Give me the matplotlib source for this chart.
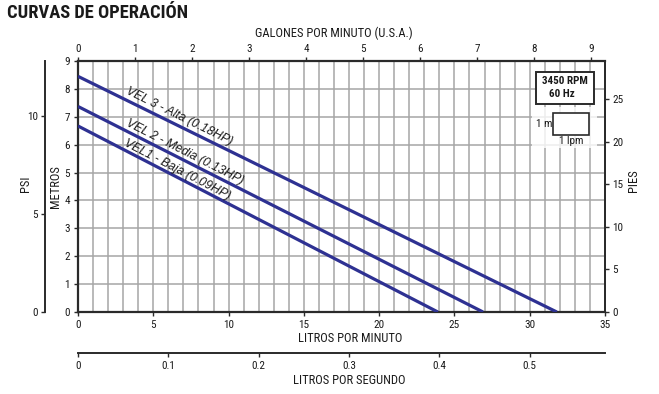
import numpy as np
import matplotlib
matplotlib.use("Agg")
import matplotlib.pyplot as plt
from matplotlib import font_manager as fm
from matplotlib.patches import Rectangle
from matplotlib.ticker import MultipleLocator, FixedLocator, FuncFormatter

# ---------------- data ----------------
title = "CURVAS DE OPERACIÓN"
curve_names = ["VEL 3 - Alta (0.18HP)", "VEL 2 - Media (0.13HP)", "VEL1 - Baja (0.09HP)"]
flow_vel3 = [0.0, 31.8]   # LPM
head_vel3 = [8.45, 0.0]   # m
flow_vel2 = [0.0, 26.9]
head_vel2 = [7.37, 0.0]
flow_vel1 = [0.0, 23.9]
head_vel1 = [6.67, 0.0]
lpm_ticks = [0, 5, 10, 15, 20, 25, 30, 35]
m_ticks = [0, 1, 2, 3, 4, 5, 6, 7, 8, 9]
gpm_ticks = [0, 1, 2, 3, 4, 5, 6, 7, 8, 9]
ft_ticks = [0, 5, 10, 15, 20, 25]
psi_ticks = [0, 5, 10]
lps_ticks = [0, 0.1, 0.2, 0.3, 0.4, 0.5]

# ---------------- style ----------------
names = {f.name for f in fm.fontManager.ttflist}
NARROW = "Liberation Sans"
for cand in ["Liberation Sans Narrow", "Arial Narrow", "Roboto Condensed",
             "Archivo Narrow", "PT Sans Narrow", "Pragati Narrow"]:
    if cand in names:
        NARROW = cand
        break
plt.rcParams["font.family"] = [NARROW, "DejaVu Sans"]
WIDE = ["Liberation Sans", "DejaVu Sans"]
TXT = "#1a1a1a"
SPINE = "#2a2a2a"
GRID = "#a6a6a6"
LINE = "#2e3192"
TS = 8

W, H = 659, 394
fig = plt.figure(figsize=(W / 100, H / 100), dpi=100)
fig.patch.set_facecolor("white")

def fx(px):
    return px / W

def fy(py):
    return 1 - py / H

L, R, T, B = 78, 605, 61, 312
ax = fig.add_axes([fx(L), fy(B), (R - L) / W, (B - T) / H])
ax.set_xlim(0, 35)
ax.set_ylim(0, 9)
ax.xaxis.set_major_locator(FixedLocator(lpm_ticks))
ax.xaxis.set_minor_locator(MultipleLocator(1))
ax.yaxis.set_major_locator(FixedLocator(m_ticks))
ax.grid(True, which="both", axis="x", color=GRID, lw=1.1, zorder=0)
ax.grid(True, which="major", axis="y", color=GRID, lw=1.1, zorder=0)
ax.tick_params(axis="x", which="minor", length=0)
ax.tick_params(axis="both", which="major", direction="out", length=3, width=1,
               colors=SPINE, labelcolor=TXT, labelsize=TS, pad=3)
for s in ["left", "bottom", "top"]:
    ax.spines[s].set_linewidth(1.6)
    ax.spines[s].set_color(SPINE)
ax.spines["right"].set_linewidth(1.4)
ax.spines["right"].set_color(SPINE)

# curves
curves = [(flow_vel3, head_vel3), (flow_vel2, head_vel2), (flow_vel1, head_vel1)]
for fl, hd in curves:
    ax.plot(fl, hd, color=LINE, lw=2.3, solid_capstyle="butt", zorder=3)

# curve labels along the lines
label_x = [3.0, 3.0, 2.9]
label_off = [5.5, 5.0, 3.8]
for (fl, hd), name, lx, off in zip(curves, curve_names, label_x, label_off):
    p0 = ax.transData.transform((fl[0], hd[0]))
    p1 = ax.transData.transform((fl[1], hd[1]))
    ang = np.degrees(np.arctan2(p1[1] - p0[1], p1[0] - p0[0]))
    ly = np.interp(lx, fl, hd)
    th = np.radians(ang)
    nx, ny = -np.sin(th), np.cos(th)
    ax.annotate(name, (lx, ly), xytext=(nx * off * 0.72, ny * off * 0.72),
                textcoords="offset points", rotation=ang, rotation_mode="anchor",
                ha="left", va="baseline", fontsize=8.8, style="italic", color=TXT,
                family=WIDE, zorder=4)

# RPM box and scale legend
fig.patches.append(Rectangle((fx(532), fy(148)), (597 - 532) / W, (148 - 107) / H,
                             transform=fig.transFigure, facecolor="white", alpha=0.8,
                             edgecolor="none", zorder=2))
fig.patches.append(Rectangle((fx(535.5), fy(104.3)), (594 - 535.5) / W, (104.3 - 71.7) / H,
                             transform=fig.transFigure, facecolor="white",
                             edgecolor=SPINE, lw=1.4, zorder=5))
fig.patches.append(Rectangle((fx(553.3), fy(135)), (589 - 553.3) / W, (135 - 113.3) / H,
                             transform=fig.transFigure, facecolor="white",
                             edgecolor=SPINE, lw=1.2, zorder=5))
fig.text(fx(565), fy(81.5), "3450 RPM", ha="center", va="center", fontsize=8.0,
         fontweight="bold", color=TXT, zorder=6)
fig.text(fx(562), fy(93.8), "60 Hz", ha="center", va="center", fontsize=8.0,
         fontweight="bold", color=TXT, zorder=6)
fig.text(fx(544), fy(124), "1 m", ha="center", va="center", fontsize=8, color=TXT, zorder=6)
fig.text(fx(571.7), fy(141), "1 lpm", ha="center", va="center", fontsize=8, color=TXT, zorder=6)

# top GPM axis
gal = 3.78541
top = ax.secondary_xaxis("top", functions=(lambda x: x / gal, lambda g: g * gal))
top.xaxis.set_major_locator(FixedLocator(gpm_ticks))
top.tick_params(direction="out", length=3, width=1, colors=SPINE, labelcolor=TXT,
                labelsize=TS, pad=2)
top.spines["top"].set_visible(False)

# right PIES axis
ftm = 3.28084
right = ax.secondary_yaxis("right", functions=(lambda m: m * ftm, lambda f: f / ftm))
right.yaxis.set_major_locator(FixedLocator(ft_ticks))
right.tick_params(direction="out", length=3, width=1, colors=SPINE, labelcolor=TXT,
                  labelsize=TS, pad=2)
right.spines["right"].set_linewidth(1.4)
right.spines["right"].set_color(SPINE)

# left PSI axis
psim = 0.70307
psi = ax.secondary_yaxis((45 - L) / (R - L), functions=(lambda m: m / psim, lambda p: p * psim))
psi.yaxis.set_major_locator(FixedLocator(psi_ticks))
psi.tick_params(direction="out", length=3, width=1, colors=SPINE, labelcolor=TXT,
                labelsize=TS, pad=2)
psi.spines["left"].set_linewidth(1.4)
psi.spines["left"].set_color(SPINE)

# bottom LPS axis
lps = ax.secondary_xaxis(-(353 - B) / (B - T), functions=(lambda x: x / 60, lambda s: s * 60))
lps.xaxis.set_major_locator(FixedLocator(lps_ticks))
lps.xaxis.set_major_formatter(FuncFormatter(lambda v, p: "0" if abs(v) < 1e-9 else f"{v:g}"))
lps.tick_params(direction="out", length=3, width=1, colors=SPINE, labelcolor=TXT,
                labelsize=TS, pad=3)
lps.spines["bottom"].set_linewidth(1.4)
lps.spines["bottom"].set_color(SPINE)

# axis labels
fig.text(fx(7), fy(13), title, ha="left", va="center", fontsize=13.3, fontweight="bold", color=TXT)
fig.text(fx(334), fy(33), "GALONES POR MINUTO (U.S.A.)", ha="center", va="center", fontsize=9, color=TXT)
fig.text(fx(350), fy(338), "LITROS POR MINUTO", ha="center", va="center", fontsize=9, color=TXT)
fig.text(fx(349), fy(381), "LITROS POR SEGUNDO", ha="center", va="center", fontsize=9, color=TXT)
fig.text(fx(25), fy(184), "PSI", ha="center", va="center", rotation=90, fontsize=9, color=TXT)
fig.text(fx(56), fy(187), "METROS", ha="center", va="center", rotation=90, fontsize=9, color=TXT)
fig.text(fx(633), fy(181), "PIES", ha="center", va="center", rotation=90, fontsize=9, color=TXT)

fig.savefig("out.png", dpi=100, facecolor="white")
